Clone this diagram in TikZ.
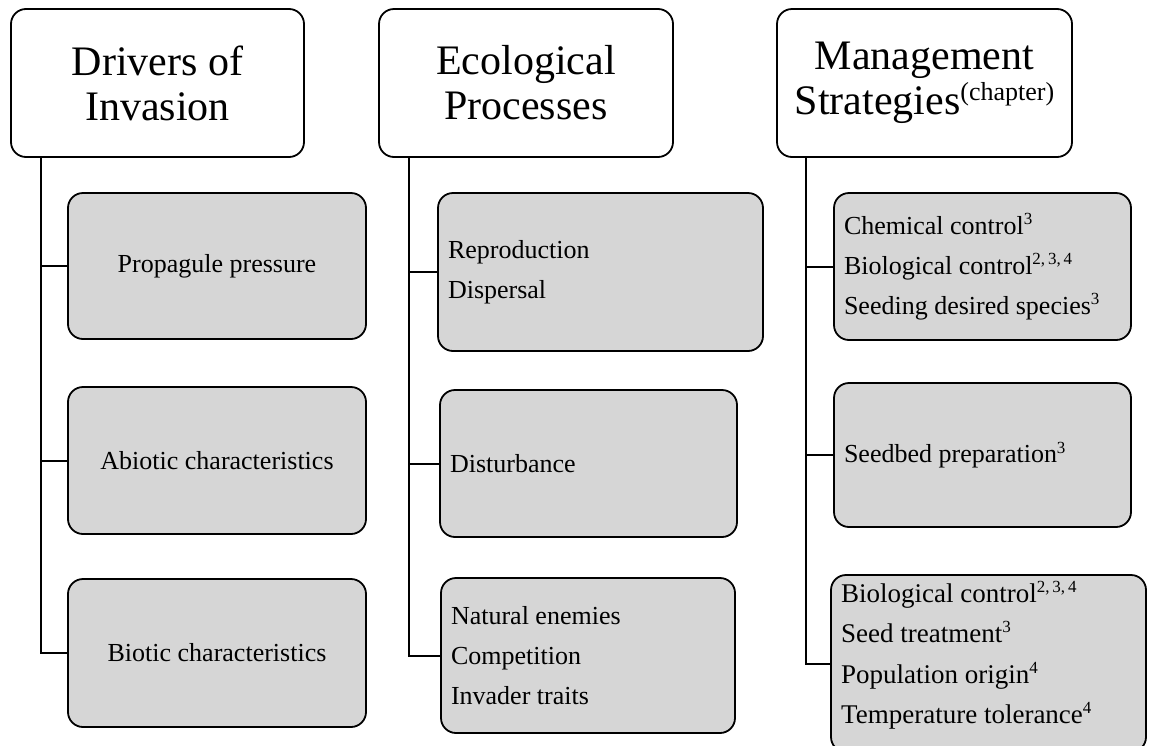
\documentclass[tikz,border=0pt]{standalone}
\usepackage{fontspec}
\setmainfont{Liberation Serif}
\definecolor{boxgray}{RGB}{214,214,214}
\newcommand\sups[1]{\raisebox{0.36em}{\fontsize{17}{17}\selectfont #1}}
\tikzset{
  head/.style={draw, line width=1.8pt, rounded corners=15pt, fill=white,
    minimum height=148pt, align=center, inner sep=0pt,
    font=\fontsize{42}{45}\selectfont},
  subbox/.style={draw, line width=1.8pt, rounded corners=15pt, fill=boxgray,
    inner xsep=10pt, inner ysep=0pt, font=\fontsize{26}{40}\selectfont},
  link/.style={line width=2pt},
}
\begin{document}
\begin{tikzpicture}[x=1pt,y=-1pt]
\useasboundingbox (0,0) rectangle (1151,745);
\fill[white] (0,0) rectangle (1151,745);
% headers
\node[head, minimum width=293pt] (h1) at (157.5,83) {Drivers of\\Invasion};
\node[head, minimum width=294pt] (h2) at (526,83) {Ecological\\Processes};
\node[head, minimum width=295pt] (h3) at (924.5,83) {Management\\Strategies\raisebox{14pt}{\fontsize{26}{26}\selectfont(chapter)}};
% column 1
\node[subbox, minimum width=298pt, minimum height=146pt] (a1) at (217,266) {Propagule pressure};
\node[subbox, minimum width=298pt, minimum height=147pt] (a2) at (217,460.5) {Abiotic characteristics};
\node[subbox, minimum width=298pt, minimum height=148pt] (a3) at (217,653) {Biotic characteristics};
% column 2
\node[subbox, text width=305pt, align=flush left, minimum height=158pt] (b1) at (600.5,272) {Reproduction\\Dispersal};
\node[subbox, text width=277pt, align=flush left, minimum height=147pt] (b2) at (588.5,463.5) {Disturbance};
\node[subbox, text width=274pt, align=flush left, minimum height=155pt] (b3) at (588,655.5) {Natural enemies\\Competition\\Invader traits};
% column 3
\node[subbox, text width=277pt, align=flush left, minimum height=147pt] (c1) at (982.5,266.5) {Chemical control\sups{3}\\Biological control\sups{2,\,3,\,4}\\Seeding desired species\sups{3}};
\node[subbox, text width=277pt, align=flush left, minimum height=144pt] (c2) at (982.5,455) {Seedbed preparation\sups{3}};
\node[subbox, minimum width=315pt, minimum height=177pt] (c3) at (988.5,663.5) {};
\node[anchor=north west, inner sep=0pt, align=flush left, font=\fontsize{27}{40.5}\selectfont] (c3t) at (841,581) {Biological control\sups{2,\,3,\,4}\\Seed treatment\sups{3}\\Population origin\sups{4}\\Temperature tolerance\sups{4}};
% connectors
\coordinate (v1) at (41,157);
\coordinate (v2) at (409,157);
\coordinate (v3) at (806,157);
\draw[link] (v1) |- (a3.west);
\draw[link] (a1.west -| v1) -- (a1.west);
\draw[link] (a2.west -| v1) -- (a2.west);
\draw[link] (v2) |- (b3.west);
\draw[link] (b1.west -| v2) -- (b1.west);
\draw[link] (b2.west -| v2) -- (b2.west);
\draw[link] (v3) |- (c3.west);
\draw[link] (c1.west -| v3) -- (c1.west);
\draw[link] (c2.west -| v3) -- (c2.west);
\end{tikzpicture}
\end{document}
